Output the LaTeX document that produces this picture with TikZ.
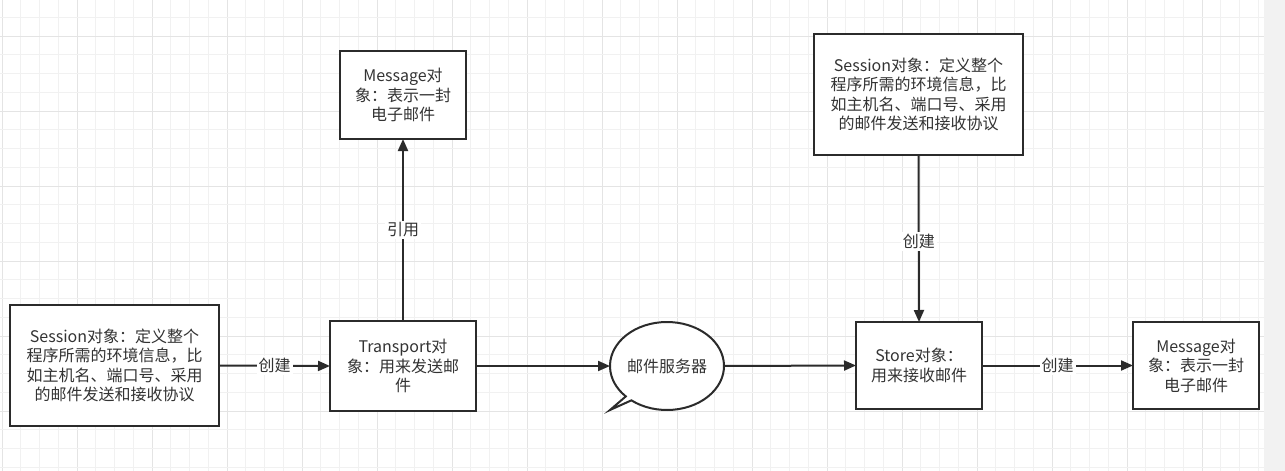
\documentclass[tikz,border=0pt]{standalone}
\usepackage{fontspec}
\setmainfont{Noto Sans CJK SC}
\usetikzlibrary{arrows.meta,shapes.geometric}
\definecolor{ink}{HTML}{2B2B2B}
\definecolor{txt}{HTML}{333333}
\definecolor{gminor}{HTML}{F1F1F1}
\definecolor{gmajor}{HTML}{E4E4E4}
\definecolor{strip}{HTML}{F2F2F2}
\tikzset{
  x=0.75pt, y=-0.75pt,
  box/.style={draw=ink, line width=1.5pt, fill=white, align=center, text=txt,
    font=\fontsize{12pt}{14.6pt}\selectfont, inner sep=0pt, outer sep=0pt},
  conn/.style={draw=ink, line width=1.5pt, -{Triangle[length=9pt,width=7.5pt]}},
  lbl/.style={fill=white, text=txt, font=\fontsize{12pt}{14.6pt}\selectfont, inner sep=1.5pt},
  gridminor/.style={draw=gminor, line width=0.75pt},
  gridmajor/.style={draw=gmajor, line width=0.75pt}
}
\begin{document}
\begin{tikzpicture}
\useasboundingbox (0,0) rectangle (1285,471);
\fill[white] (0,0) rectangle (1264,471);
\fill[strip] (1264,0) rectangle (1285,471);
% grid
\foreach \i in {0,...,67} {
  \pgfmathtruncatemacro{\m}{mod(\i,4)}
  \ifnum\m=0 \draw[gridmajor] ({2+18.75*\i},0) -- ({2+18.75*\i},471);
  \else \draw[gridminor] ({2+18.75*\i},0) -- ({2+18.75*\i},471); \fi
}
\foreach \j in {1,...,25} {
  \pgfmathtruncatemacro{\m}{mod(\j,4)}
  \ifnum\m=2 \draw[gridmajor] (0,{-1.45+18.75*\j}) -- (1264,{-1.45+18.75*\j});
  \else \draw[gridminor] (0,{-1.45+18.75*\j}) -- (1264,{-1.45+18.75*\j}); \fi
}
% nodes
\node[box, minimum width=156.75pt, minimum height=90.75pt] (s1) at (114.5,365.5)
  {Session对象：定义整个\\程序所需的环境信息，比\\如主机名、端口号、采用\\的邮件发送和接收协议};
\node[box, minimum width=109.5pt, minimum height=67.5pt] (tp) at (403,366)
  {Transport对\\象：用来发送邮\\件};
\node[box, minimum width=94.5pt, minimum height=66pt] (m1) at (403,95)
  {Message对\\象：表示一封\\电子邮件};
\node[box, minimum width=156.75pt, minimum height=90.75pt] (s2) at (918.5,94.5)
  {Session对象：定义整个\\程序所需的环境信息，比\\如主机名、端口号、采用\\的邮件发送和接收协议};
\node[box, minimum width=94.5pt, minimum height=65.25pt] (st) at (919,365.5)
  {Store对象：\\用来接收邮件};
\node[box, minimum width=94.5pt, minimum height=65.25pt] (m2) at (1196,365.5)
  {Message对\\象：表示一封\\电子邮件};
% callout
\coordinate (tip) at (610,410);
\coordinate (srvc) at (667,366);
\draw[ink, line width=1.5pt, fill=white, line join=miter]
  (tip) -- ([shift={(231.3:42.75pt and 33pt)}]srvc)
  arc[start angle=231.3, end angle=583.7, x radius=42.75pt, y radius=33pt] -- cycle;
\node[ellipse, minimum width=85.5pt, minimum height=66pt, inner sep=0pt, outer sep=0pt,
  text=txt, font=\fontsize{12pt}{14.6pt}\selectfont] (srv) at (srvc) {邮件服务器};
% connectors
\draw[conn] (s1.east) -- node[lbl] {创建} (tp.west);
\draw[conn] (tp.north) -- node[lbl] {引用} (m1.south);
\draw[conn] (tp.east) -- (srv.west);
\draw[conn] (srv.east) -- (st.west);
\draw[conn] (s2.south) -- node[lbl, pos=0.52] {创建} (st.north);
\draw[conn] (st.east) -- node[lbl] {创建} (m2.west);
\end{tikzpicture}
\end{document}
